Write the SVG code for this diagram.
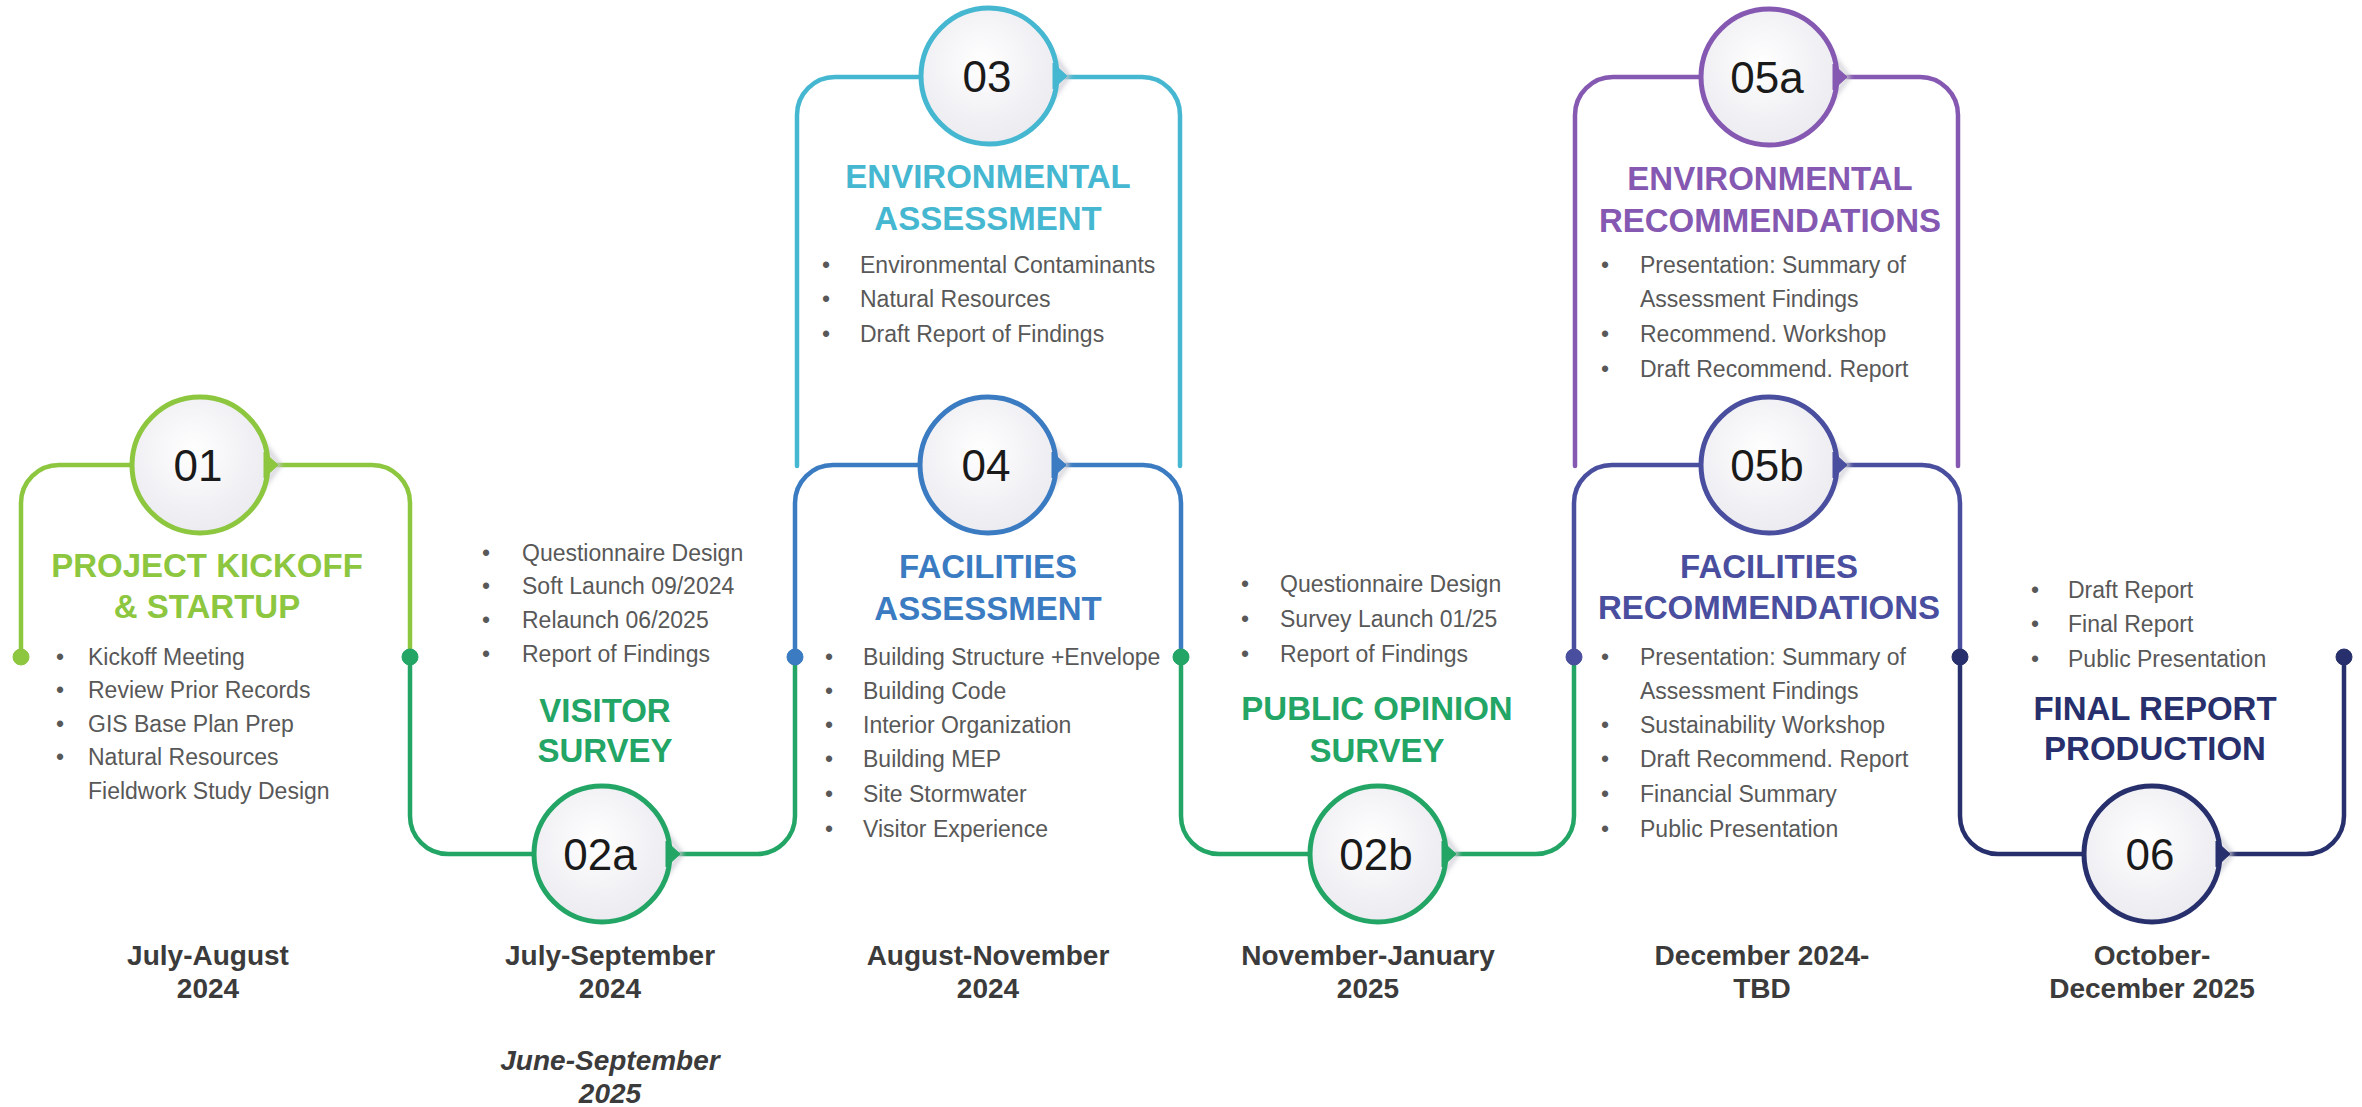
<svg xmlns="http://www.w3.org/2000/svg" width="2362" height="1107" viewBox="0 0 2362 1107">
<defs>
<radialGradient id="cg" cx="0.45" cy="0.4" r="0.65">
<stop offset="0" stop-color="#ffffff"/>
<stop offset="1" stop-color="#e9e9ef"/>
</radialGradient>
<filter id="sh" x="-30%" y="-30%" width="160%" height="160%">
<feGaussianBlur stdDeviation="2.5"/>
</filter>
<g id="disc">
<path d="M50,-40 L79,0 L50,40" fill="none" stroke="#c9c9d2" stroke-width="4" filter="url(#sh)"/>
<circle r="68" fill="url(#cg)"/>
</g>
</defs>
<style>
.ln{fill:none;stroke-width:4.5;stroke-linecap:round}
.ring{fill:none;stroke-width:5}
.num{font-family:"Liberation Sans",Arial,sans-serif;font-size:44px;fill:#1a1a1a;text-anchor:middle}
.hd{font-family:"Liberation Sans",Arial,sans-serif;font-size:33px;font-weight:bold;text-anchor:middle}
.bl{font-family:"Liberation Sans",Arial,sans-serif;font-size:23px;fill:#585858}
.dt{font-family:"Liberation Sans",Arial,sans-serif;font-size:28px;font-weight:bold;fill:#3b3b3b;text-anchor:middle}
.lime{stroke:#8DC63F;fill:#8DC63F}
.grn{stroke:#22A565;fill:#22A565}
.cyn{stroke:#45B7D0;fill:#45B7D0}
.blu{stroke:#3A7BC2;fill:#3A7BC2}
.pur{stroke:#8558B2;fill:#8558B2}
.ind{stroke:#4A4E9E;fill:#4A4E9E}
.nav{stroke:#27306C;fill:#27306C}
</style>
<rect width="2362" height="1107" fill="#ffffff"/>

<g id="connectors">
<path class="ln cyn" style="fill:none" d="M797,466 V115 A38,38 0 0 1 835,77 H1142 A38,38 0 0 1 1180,115 V466"/>
<path class="ln pur" style="fill:none" d="M1575,466 V115 A38,38 0 0 1 1613,77 H1920 A38,38 0 0 1 1958,115 V466"/>
<path class="ln lime" style="fill:none" d="M21,657 V503 A38,38 0 0 1 59,465 H372 A38,38 0 0 1 410,503 V657"/>
<path class="ln grn" style="fill:none" d="M410,657 V816 A38,38 0 0 0 448,854 H757 A38,38 0 0 0 795,816 V657"/>
<path class="ln blu" style="fill:none" d="M795,657 V503 A38,38 0 0 1 833,465 H1143 A38,38 0 0 1 1181,503 V657"/>
<path class="ln grn" style="fill:none" d="M1181,657 V816 A38,38 0 0 0 1219,854 H1536 A38,38 0 0 0 1574,816 V657"/>
<path class="ln ind" style="fill:none" d="M1574,657 V503 A38,38 0 0 1 1612,465 H1922 A38,38 0 0 1 1960,503 V657"/>
<path class="ln nav" style="fill:none" d="M1960,657 V816 A38,38 0 0 0 1998,854 H2306 A38,38 0 0 0 2344,816 V657"/>
<circle class="lime" cx="21" cy="657" r="8"/>
<circle class="grn" cx="410" cy="657" r="8"/>
<circle class="blu" cx="795" cy="657" r="8"/>
<circle class="grn" cx="1181" cy="657" r="8"/>
<circle class="ind" cx="1574" cy="657" r="8"/>
<circle class="nav" cx="1960" cy="657" r="8"/>
<circle class="nav" cx="2344" cy="657" r="8"/>
</g>

<g id="node-01">
<use href="#disc" x="200" y="465"/>
<circle class="ring lime" style="fill:none" cx="200" cy="465" r="68"/>
<path class="lime" d="M264,452 L278,465 L264,478 Z"/>
<text class="num" x="198" y="481">01</text>
<text class="hd" x="207" y="577" fill="#8DC63F">PROJECT KICKOFF</text>
<text class="hd" x="207" y="618" fill="#8DC63F">&amp; STARTUP</text>
<text class="bl" x="56" y="665">•</text><text class="bl" x="88" y="665">Kickoff Meeting</text>
<text class="bl" x="56" y="698">•</text><text class="bl" x="88" y="698">Review Prior Records</text>
<text class="bl" x="56" y="732">•</text><text class="bl" x="88" y="732">GIS Base Plan Prep</text>
<text class="bl" x="56" y="765">•</text><text class="bl" x="88" y="765">Natural Resources</text>
<text class="bl" x="88" y="799">Fieldwork Study Design</text>
<text class="dt" x="208" y="965">July-August</text>
<text class="dt" x="208" y="998">2024</text>
</g>

<g id="node-02a">
<use href="#disc" x="602" y="854"/>
<circle class="ring grn" style="fill:none" cx="602" cy="854" r="68"/>
<path class="grn" d="M666,841 L680,854 L666,867 Z"/>
<text class="num" x="600" y="870">02a</text>
<text class="bl" x="482" y="561">•</text><text class="bl" x="522" y="561">Questionnaire Design</text>
<text class="bl" x="482" y="594">•</text><text class="bl" x="522" y="594">Soft Launch 09/2024</text>
<text class="bl" x="482" y="628">•</text><text class="bl" x="522" y="628">Relaunch 06/2025</text>
<text class="bl" x="482" y="662">•</text><text class="bl" x="522" y="662">Report of Findings</text>
<text class="hd" x="605" y="722" fill="#22A565">VISITOR</text>
<text class="hd" x="605" y="762" fill="#22A565">SURVEY</text>
<text class="dt" x="610" y="965">July-September</text>
<text class="dt" x="610" y="998">2024</text>
<text class="dt" x="610" y="1070" font-style="italic">June-September</text>
<text class="dt" x="610" y="1103" font-style="italic">2025</text>
</g>

<g id="node-03">
<use href="#disc" x="989" y="76"/>
<circle class="ring cyn" style="fill:none" cx="989" cy="76" r="68"/>
<path class="cyn" d="M1053,63 L1067,76 L1053,89 Z"/>
<text class="num" x="987" y="92">03</text>
<text class="hd" x="988" y="188" fill="#45B7D0">ENVIRONMENTAL</text>
<text class="hd" x="988" y="230" fill="#45B7D0">ASSESSMENT</text>
<text class="bl" x="822" y="273">•</text><text class="bl" x="860" y="273">Environmental Contaminants</text>
<text class="bl" x="822" y="307">•</text><text class="bl" x="860" y="307">Natural Resources</text>
<text class="bl" x="822" y="342">•</text><text class="bl" x="860" y="342">Draft Report of Findings</text>
</g>

<g id="node-04">
<use href="#disc" x="988" y="465"/>
<circle class="ring blu" style="fill:none" cx="988" cy="465" r="68"/>
<path class="blu" d="M1052,452 L1066,465 L1052,478 Z"/>
<text class="num" x="986" y="481">04</text>
<text class="hd" x="988" y="578" fill="#3A7BC2">FACILITIES</text>
<text class="hd" x="988" y="620" fill="#3A7BC2">ASSESSMENT</text>
<text class="bl" x="825" y="665">•</text><text class="bl" x="863" y="665">Building Structure +Envelope</text>
<text class="bl" x="825" y="699">•</text><text class="bl" x="863" y="699">Building Code</text>
<text class="bl" x="825" y="733">•</text><text class="bl" x="863" y="733">Interior Organization</text>
<text class="bl" x="825" y="767">•</text><text class="bl" x="863" y="767">Building MEP</text>
<text class="bl" x="825" y="802">•</text><text class="bl" x="863" y="802">Site Stormwater</text>
<text class="bl" x="825" y="837">•</text><text class="bl" x="863" y="837">Visitor Experience</text>
<text class="dt" x="988" y="965">August-November</text>
<text class="dt" x="988" y="998">2024</text>
</g>

<g id="node-02b">
<use href="#disc" x="1378" y="854"/>
<circle class="ring grn" style="fill:none" cx="1378" cy="854" r="68"/>
<path class="grn" d="M1442,841 L1456,854 L1442,867 Z"/>
<text class="num" x="1376" y="870">02b</text>
<text class="bl" x="1241" y="592">•</text><text class="bl" x="1280" y="592">Questionnaire Design</text>
<text class="bl" x="1241" y="627">•</text><text class="bl" x="1280" y="627">Survey Launch 01/25</text>
<text class="bl" x="1241" y="662">•</text><text class="bl" x="1280" y="662">Report of Findings</text>
<text class="hd" x="1377" y="720" fill="#22A565">PUBLIC OPINION</text>
<text class="hd" x="1377" y="762" fill="#22A565">SURVEY</text>
<text class="dt" x="1368" y="965">November-January</text>
<text class="dt" x="1368" y="998">2025</text>
</g>

<g id="node-05a">
<use href="#disc" x="1769" y="77"/>
<circle class="ring pur" style="fill:none" cx="1769" cy="77" r="68"/>
<path class="pur" d="M1833,64 L1847,77 L1833,90 Z"/>
<text class="num" x="1767" y="93">05a</text>
<text class="hd" x="1770" y="190" fill="#8558B2">ENVIRONMENTAL</text>
<text class="hd" x="1770" y="232" fill="#8558B2">RECOMMENDATIONS</text>
<text class="bl" x="1601" y="273">•</text><text class="bl" x="1640" y="273">Presentation: Summary of</text>
<text class="bl" x="1640" y="307">Assessment Findings</text>
<text class="bl" x="1601" y="342">•</text><text class="bl" x="1640" y="342">Recommend. Workshop</text>
<text class="bl" x="1601" y="377">•</text><text class="bl" x="1640" y="377">Draft Recommend. Report</text>
</g>

<g id="node-05b">
<use href="#disc" x="1769" y="465"/>
<circle class="ring ind" style="fill:none" cx="1769" cy="465" r="68"/>
<path class="ind" d="M1833,452 L1847,465 L1833,478 Z"/>
<text class="num" x="1767" y="481">05b</text>
<text class="hd" x="1769" y="578" fill="#4A4E9E">FACILITIES</text>
<text class="hd" x="1769" y="619" fill="#4A4E9E">RECOMMENDATIONS</text>
<text class="bl" x="1601" y="665">•</text><text class="bl" x="1640" y="665">Presentation: Summary of</text>
<text class="bl" x="1640" y="699">Assessment Findings</text>
<text class="bl" x="1601" y="733">•</text><text class="bl" x="1640" y="733">Sustainability Workshop</text>
<text class="bl" x="1601" y="767">•</text><text class="bl" x="1640" y="767">Draft Recommend. Report</text>
<text class="bl" x="1601" y="802">•</text><text class="bl" x="1640" y="802">Financial Summary</text>
<text class="bl" x="1601" y="837">•</text><text class="bl" x="1640" y="837">Public Presentation</text>
<text class="dt" x="1762" y="965">December 2024-</text>
<text class="dt" x="1762" y="998">TBD</text>
</g>

<g id="node-06">
<use href="#disc" x="2152" y="854"/>
<circle class="ring nav" style="fill:none" cx="2152" cy="854" r="68"/>
<path class="nav" d="M2216,841 L2230,854 L2216,867 Z"/>
<text class="num" x="2150" y="870">06</text>
<text class="bl" x="2031" y="598">•</text><text class="bl" x="2068" y="598">Draft Report</text>
<text class="bl" x="2031" y="632">•</text><text class="bl" x="2068" y="632">Final Report</text>
<text class="bl" x="2031" y="667">•</text><text class="bl" x="2068" y="667">Public Presentation</text>
<text class="hd" x="2155" y="720" fill="#27306C">FINAL REPORT</text>
<text class="hd" x="2155" y="760" fill="#27306C">PRODUCTION</text>
<text class="dt" x="2152" y="965">October-</text>
<text class="dt" x="2152" y="998">December 2025</text>
</g>
</svg>
